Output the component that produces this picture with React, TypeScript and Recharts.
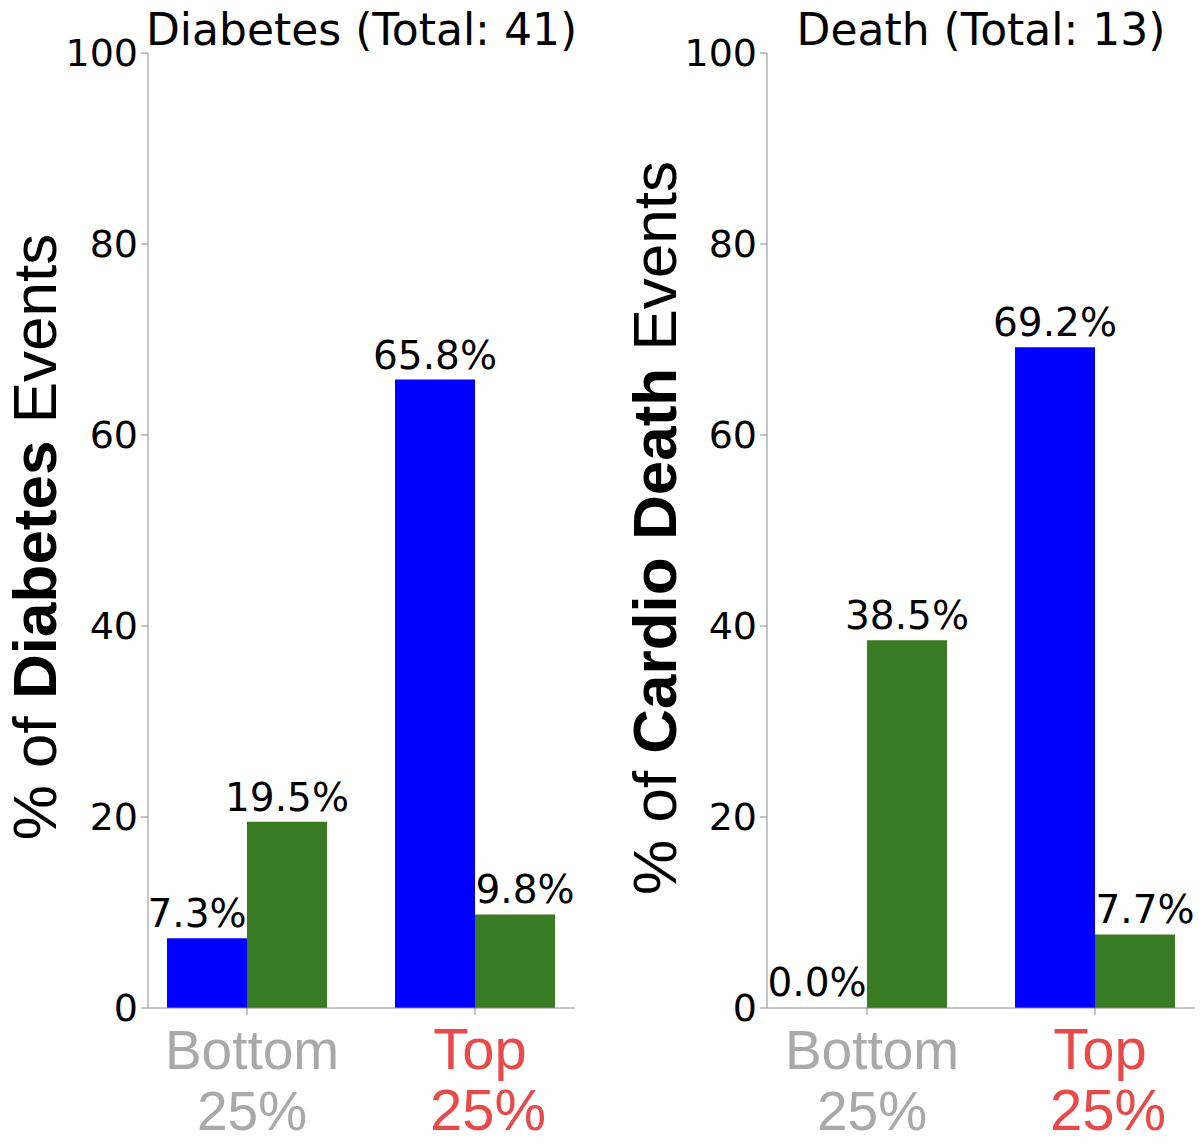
import { BarChart, Bar, XAxis, YAxis, LabelList, Rectangle } from 'recharts'

const CATEGORIES = ['Bottom 25%', 'Top 25%']
const DIABETES_BLUE = [7.3, 65.8]
const DIABETES_GREEN = [19.5, 9.8]
const DEATH_BLUE = [0.0, 69.2]
const DEATH_GREEN = [38.5, 7.7]
const Y_TICKS = [0, 20, 40, 60, 80, 100]

const BLUE = '#0000ff'
const GREEN = '#387b22'
const AXIS = '#8c8c8c'
const TICK_COLORS = ['#a9a9a9', '#e84a4a']
const TICK_SIZES = [55, 58]
const MONO = 'DejaVu Sans'
const SANS = '"Liberation Sans", Arial, sans-serif'

function CategoryTick({ x, y, payload, index }: any) {
  const [line1, line2] = String(payload.value).split(' ')
  const i = index ?? CATEGORIES.indexOf(payload.value)
  const size = TICK_SIZES[i]
  return (
    <text textAnchor="middle" fill={TICK_COLORS[i]} fontSize={size} fontFamily={SANS}>
      <tspan x={x + 5} y={y + 52}>{line1}</tspan>
      <tspan x={x + 5 + i * 8} y={y + 113}>{line2}</tspan>
    </text>
  )
}

// small bars get their labels nudged apart so neighbours don't collide
const barLabel = (side: 'blue' | 'green') => (props: any) => {
  const { x, y, width, value } = props
  const v = Number(value)
  const dx = v < 15 ? (side === 'blue' ? -10 : 10) : 0
  return (
    <text x={x + width / 2 + dx} y={y - 11} textAnchor="middle" fontSize={39} fontFamily={MONO} fill="#000">
      {v.toFixed(1)}%
    </text>
  )
}

// zero values keep a 1px slot (so they still get a label) but draw nothing
const BarShape = (props: any) => (props.height > 1.5 ? <Rectangle {...props} /> : <g />)

interface PanelProps {
  left: number
  title: string
  labelPre: string
  labelBold: string
  labelPost: string
  blue: number[]
  green: number[]
  yAxisWidth: number
  marginRight: number
  pad: { left: number; right: number }
  labelX: number
  labelY: number
}

function Panel(p: PanelProps) {
  const data = CATEGORIES.map((c, i) => ({ name: c, blue: p.blue[i], green: p.green[i] }))
  const plotLeft = p.yAxisWidth
  const plotRight = 600 - p.marginRight
  return (
    <div style={{ position: 'absolute', left: p.left, top: 0, width: 600, height: 1144 }}>
      <BarChart
        width={600}
        height={1144}
        data={data}
        margin={{ top: 53, right: p.marginRight, bottom: 0, left: 0 }}
        barGap={0}
        barSize={80}
      >
        <YAxis
          width={p.yAxisWidth}
          domain={[0, 100]}
          ticks={Y_TICKS}
          interval={0}
          stroke={AXIS}
          tickSize={7}
          tickMargin={3}
          tick={{ fontSize: 38, fill: '#000', fontFamily: MONO }}
        />
        <XAxis
          dataKey="name"
          height={136}
          padding={p.pad}
          stroke={AXIS}
          tickSize={7}
          tickMargin={2}
          interval={0}
          tick={<CategoryTick />}
        />
        <Bar dataKey="blue" fill={BLUE} minPointSize={1} shape={BarShape} isAnimationActive={false}>
          <LabelList dataKey="blue" content={barLabel('blue')} />
        </Bar>
        <Bar dataKey="green" fill={GREEN} minPointSize={1} shape={BarShape} isAnimationActive={false}>
          <LabelList dataKey="green" content={barLabel('green')} />
        </Bar>
      </BarChart>
      <svg width={600} height={1144} style={{ position: 'absolute', left: 0, top: 0, pointerEvents: 'none' }}>
        <text x={(plotLeft + plotRight) / 2} y={45} textAnchor="middle" fontSize={44} fontFamily={MONO} fill="#000">
          {p.title}
        </text>
        <text
          transform={`translate(${p.labelX}, ${p.labelY}) rotate(-90)`}
          textAnchor="middle"
          fontSize={62}
          fontFamily={SANS}
          fill="#000"
        >
          {p.labelPre}
          <tspan fontWeight="bold">{p.labelBold}</tspan>
          {p.labelPost}
        </text>
      </svg>
    </div>
  )
}

export default function App() {
  return (
    <div style={{ position: 'absolute', left: 0, top: 0, width: 1200, height: 1144, background: '#fff' }}>
      <Panel
        left={0}
        title="Diabetes (Total: 41)"
        labelPre="% of "
        labelBold="Diabetes"
        labelPost=" Events"
        blue={DIABETES_BLUE}
        green={DIABETES_GREEN}
        yAxisWidth={148}
        marginRight={25}
        pad={{ left: -15, right: -14 }}
        labelX={56}
        labelY={537}
      />
      <Panel
        left={600}
        title="Death (Total: 13)"
        labelPre="% of "
        labelBold="Cardio Death"
        labelPost=" Events"
        blue={DEATH_BLUE}
        green={DEATH_GREEN}
        yAxisWidth={167}
        marginRight={5}
        pad={{ left: -14, right: -14 }}
        labelX={76}
        labelY={528}
      />
    </div>
  )
}
